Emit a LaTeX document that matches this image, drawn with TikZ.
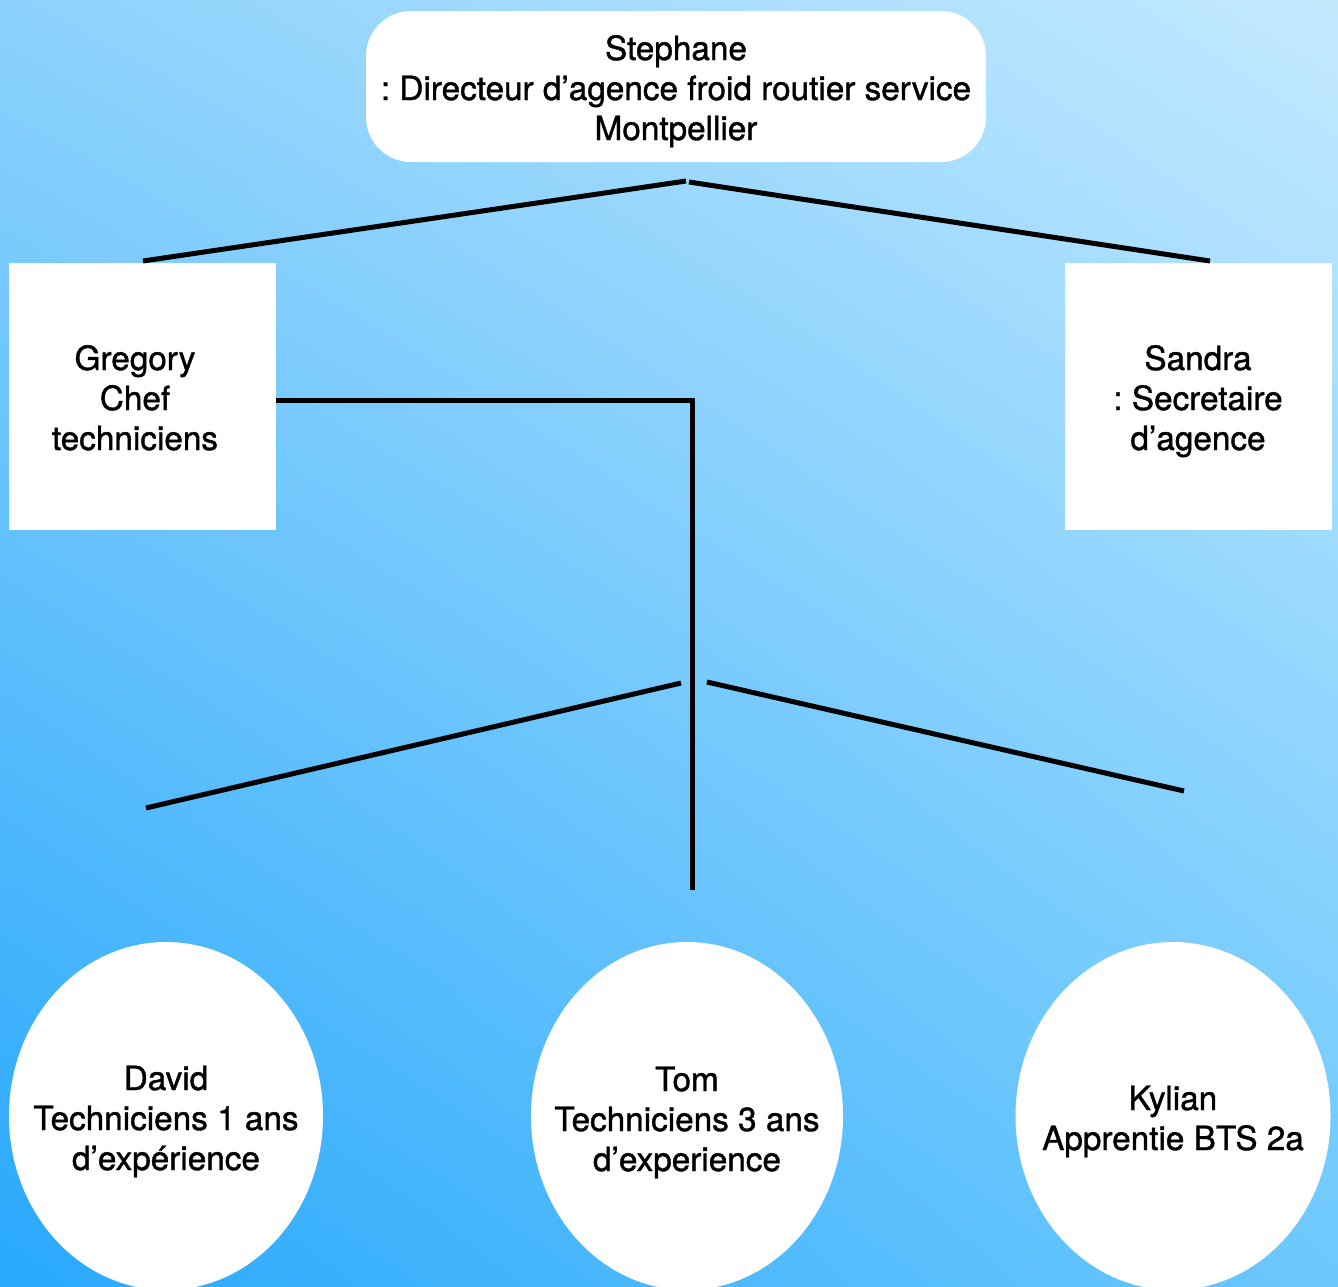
\documentclass[tikz,border=0pt]{standalone}
\usepackage{fontspec}
\setmainfont[FakeBold=1.2]{TeX Gyre Heros}
\usetikzlibrary{shapes.geometric,shadings}
\definecolor{bgUL}{HTML}{8CD2FC}
\definecolor{bgUR}{HTML}{C4E9FF}
\definecolor{bgLL}{HTML}{28A8FC}
\definecolor{bgLR}{HTML}{6CC8FD}
\frenchspacing
\begin{document}
\begin{tikzpicture}[x=1pt,y=-1pt,
  lbl/.style={align=center,font=\fontsize{33.3}{40}\selectfont,text=black,inner sep=0pt},
  whitebox/.style={fill=white,draw=none,inner sep=0pt},
  oval/.style={whitebox,ellipse,minimum width=314pt,minimum height=348pt},
  conn/.style={line width=5pt,black}]
\useasboundingbox (0,0) rectangle (1338,1286);
\clip (0,0) rectangle (1338,1286);
\shade[upper left=bgUL,upper right=bgUR,lower left=bgLL,lower right=bgLR] (0,0) rectangle (1338,1286);

% nodes
\node[whitebox,rounded corners=45pt,minimum width=620pt,minimum height=151pt] (top) at (676,86.5) {};
\node[lbl] (toptext) at (676,92) {\strut Stephane\\: Directeur d’agence froid routier service\\Montpellier\strut};

\node[whitebox,minimum width=267pt,minimum height=267pt] (greg) at (142.5,396.5) {};
\node[lbl] (gregtext) at (135,402) {\strut Gregory\\Chef\\techniciens\strut};

\node[whitebox,minimum width=267pt,minimum height=267pt] (sandra) at (1198.5,396.5) {};
\node[lbl] (sandratext) at (1198,402) {\strut Sandra\\: Secretaire\\d’agence\strut};

\node[oval] (david) at (166,1116) {};
\node[lbl] (davidtext) at (166,1122) {\strut David\\Techniciens 1 ans\\d’expérience\strut};
\node[oval,minimum width=312pt] (tom) at (687,1116) {};
\node[lbl] (tomtext) at (687,1123) {\strut Tom\\Techniciens 3 ans\\d’experience\strut};
\node[oval,minimum width=315pt] (kylian) at (1173,1116) {};
\node[lbl] (kyliantext) at (1173,1122) {\strut Kylian\\Apprentie BTS 2a\strut};

% connector end points
\coordinate (tl1) at (686,181);
\coordinate (tl2) at (143,261);
\coordinate (tr1) at (689,182);
\coordinate (tr2) at (1210,261);
\coordinate (gcorner) at (692,400);
\coordinate (gend) at (692,890);
\coordinate (bl1) at (681,683);
\coordinate (bl2) at (146,808);
\coordinate (br1) at (707,682);
\coordinate (br2) at (1184,791);

\draw[conn] (tl1) -- (tl2);
\draw[conn] (tr1) -- (tr2);
\draw[conn] (greg.east |- gcorner) -- (gcorner) -- (gend);
\draw[conn] (bl1) -- (bl2);
\draw[conn] (br1) -- (br2);
\end{tikzpicture}
\end{document}
